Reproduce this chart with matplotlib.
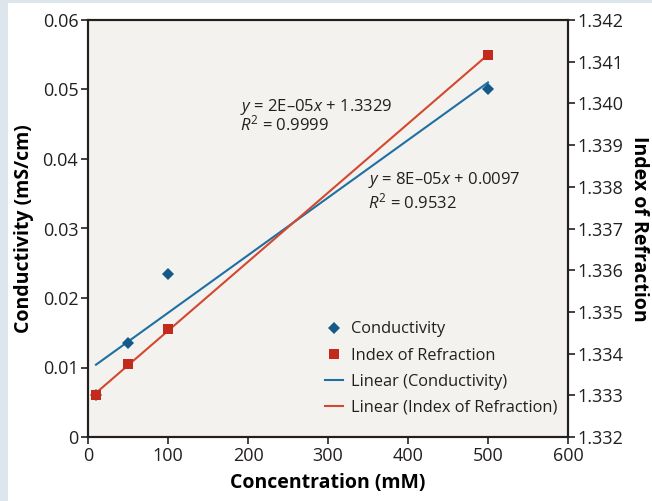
import numpy as np
import matplotlib
matplotlib.use('Agg')
import matplotlib.pyplot as plt
from matplotlib.lines import Line2D
from matplotlib.patches import Rectangle

# concentration (mM), conductivity (mS/cm), index of refraction
conc = [10, 50, 100, 500]
conductivity = [0.0060, 0.0135, 0.0235, 0.0500]
refraction = [1.33300, 1.33375, 1.33458, 1.34116]

x_ticks = [0, 100, 200, 300, 400, 500, 600]
left_ticks = [0, 0.01, 0.02, 0.03, 0.04, 0.05, 0.06]
left_labels = ['0', '0.01', '0.02', '0.03', '0.04', '0.05', '0.06']
right_ticks = [1.332, 1.333, 1.334, 1.335, 1.336, 1.337, 1.338, 1.339, 1.340, 1.341, 1.342]

blue_pt = '#13598a'
blue_ln = '#1f6fa3'
red_pt = '#c42a1c'
red_ln = '#d4482f'

plt.rcParams['font.family'] = ['Open Sans', 'DejaVu Sans']
plt.rcParams['mathtext.fontset'] = 'custom'
plt.rcParams['mathtext.rm'] = 'Open Sans'
plt.rcParams['mathtext.it'] = 'Open Sans:italic'
plt.rcParams['text.color'] = '#231f20'

fig = plt.figure(figsize=(6.52, 5.01), dpi=100)
fig.patch.set_facecolor('white')
# light frame strips on the left and top
fig.patches.append(Rectangle((0, 0), 8 / 652, 1, transform=fig.transFigure,
                             facecolor='#dde6ed', edgecolor='none', zorder=-1))
fig.patches.append(Rectangle((0, 1 - 3 / 501), 1, 3 / 501, transform=fig.transFigure,
                             facecolor='#dde6ed', edgecolor='none', zorder=-1))

ax = fig.add_axes([88 / 652, 64 / 501, 480 / 652, 417 / 501])
ax.set_facecolor('#f3f2ef')
ax2 = ax.twinx()

# linear fits
c_fit = np.polyfit(conc, conductivity, 1)
r_fit = np.polyfit(conc, refraction, 1)
xf = np.array([min(conc), max(conc)])

ax.plot(conc, conductivity, 'D', color=blue_pt, markersize=5.7, mew=0, zorder=3)
ax.plot(xf, np.polyval(c_fit, xf), color=blue_ln, lw=1.5, zorder=2)
ax2.plot(conc, refraction, 's', color=red_pt, markersize=7.3, mew=0, zorder=3)
ax2.plot(xf, np.polyval(r_fit, xf), color=red_ln, lw=1.5, zorder=2)

ax.set_xlim(0, 600)
ax.set_ylim(0, 0.06)
ax2.set_ylim(1.332, 1.342)
ax.set_xticks(x_ticks)
ax.set_yticks(left_ticks)
ax.set_yticklabels(left_labels)
ax2.set_yticks(right_ticks)
ax2.set_yticklabels([f'{t:.3f}' for t in right_ticks])

for a in (ax, ax2):
    for s in a.spines.values():
        s.set_linewidth(1.5)
        s.set_color('#231f20')
    a.tick_params(direction='out', length=5, width=1.2, labelsize=13, colors='#231f20', pad=2)

ax.set_xlabel('Concentration (mM)', fontsize=14, fontweight='bold', labelpad=6)
ax.set_ylabel('Conductivity (mS/cm)', fontsize=14, fontweight='bold', labelpad=6)
ax2.set_ylabel('Index of Refraction', fontsize=14, fontweight='bold', rotation=-90, labelpad=18)

ax.text(190, 0.0475, r'$y$ = 2E–05$x$ + 1.3329', fontsize=12, va='center')
ax.text(190, 0.0449, r'$R^2$ = 0.9999', fontsize=12, va='center')
ax.text(350, 0.0370, r'$y$ = 8E–05$x$ + 0.0097', fontsize=12, va='center')
ax.text(350, 0.0337, r'$R^2$ = 0.9532', fontsize=12, va='center')

handles = [
    Line2D([], [], marker='D', color=blue_pt, ls='none', markersize=5.7, mew=0),
    Line2D([], [], marker='s', color=red_pt, ls='none', markersize=6.5, mew=0),
    Line2D([], [], color=blue_ln, lw=1.5),
    Line2D([], [], color=red_ln, lw=1.5),
]
labels = ['Conductivity', 'Index of Refraction', 'Linear (Conductivity)',
          'Linear (Index of Refraction)']
ax2.legend(handles, labels, loc='upper left', bbox_to_anchor=(0.48, 0.293),
           frameon=False, fontsize=11.8, handlelength=1.1, handletextpad=0.5,
           labelspacing=0.62, borderaxespad=0)

fig.savefig('out.png', dpi=100)
